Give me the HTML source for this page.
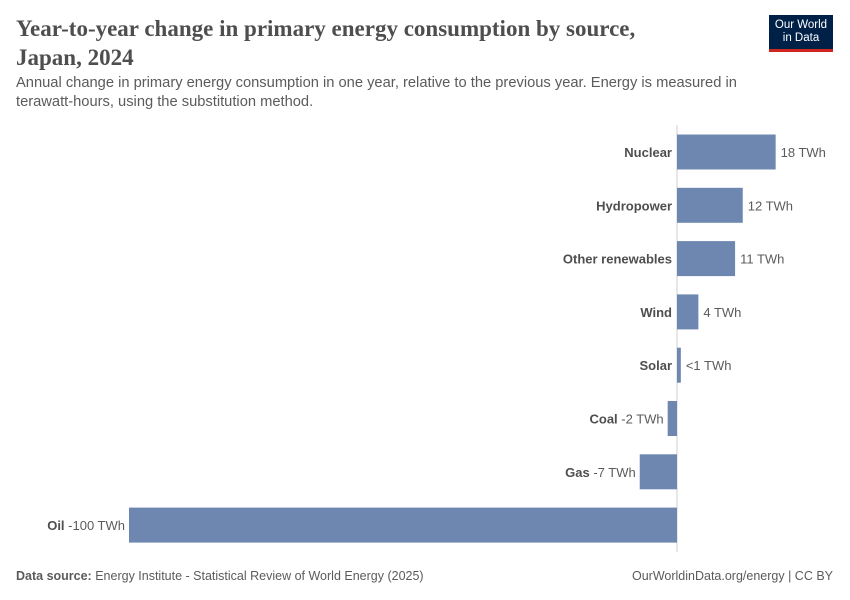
<!DOCTYPE html>
<html><head><meta charset="utf-8"><style>
body{margin:0;background:#fff;font-family:"Liberation Sans",sans-serif;}
#wrap{position:relative;width:850px;height:600px;overflow:hidden;}
.title{position:absolute;left:16px;top:14px;font-family:"Liberation Serif",serif;font-size:23px;line-height:29px;color:#4e4e4e;font-weight:bold;margin:0;width:700px;}
.sub{position:absolute;left:16px;top:74px;font-size:14.7px;line-height:19px;color:#5b5b5b;width:760px;}
.logo{position:absolute;left:769px;top:15px;width:64px;height:37px;background:#002147;color:#fff;font-size:11.5px;line-height:13px;text-align:center;padding-top:4px;box-sizing:border-box;border-bottom:3px solid #ce261e;}
.foot{position:absolute;top:569px;font-size:12.5px;color:#5b5b5b;}
</style></head><body><div id="wrap">
<h1 class="title">Year-to-year change in primary energy consumption by source,<br>Japan, 2024</h1>
<div class="sub">Annual change in primary energy consumption in one year, relative to the previous year. Energy is measured in terawatt-hours, using the substitution method.</div>
<div class="logo">Our World<br>in Data</div>
<svg id="svg" width="850" height="600" style="position:absolute;left:0;top:0"></svg>
<div class="foot" style="left:16px"><b>Data source:</b> Energy Institute - Statistical Review of World Energy (2025)</div>
<div class="foot" style="right:17px">OurWorldinData.org/energy | CC BY</div>
</div>
<script>
const categories=["Nuclear","Hydropower","Other renewables","Wind","Solar","Coal","Gas","Oil"];
const values=[18,12,10.6,3.9,0.7,-1.7,-6.8,-100];
const valueLabels=["18 TWh","12 TWh","11 TWh","4 TWh","<1 TWh","-2 TWh","-7 TWh","-100 TWh"];
const NS="http://www.w3.org/2000/svg";
const svg=document.getElementById('svg');
const x0=677,scale=5.48;
function xs(v){return x0+v*scale;}
function yc(i){return 152+i*53.3;}
function mk(t,a){const e=document.createElementNS(NS,t);for(const k in a)e.setAttribute(k,a[k]);svg.appendChild(e);return e;}
const zl=mk('line',{x1:x0,x2:x0,y1:125,y2:552,stroke:'#cfcfcf','stroke-width':1});


categories.forEach((c,i)=>{
 const v=values[i],x=Math.min(xs(0),xs(v)),w=Math.abs(xs(v)-xs(0));
 const r=mk('rect',{x:x,y:yc(i)-17.5,width:Math.max(w,1),height:35,fill:'#6d87b0'});
 
 
 const y=yc(i)+5;
 if(v>=0){
  const n=mk('text',{x:x0-5,y:y,'text-anchor':'end','font-size':13,'font-weight':'bold',fill:'#4e4e4e','font-family':'Liberation Sans'});n.textContent=c;
  
  
  const l=mk('text',{x:xs(v)+5,y:y,'font-size':13,fill:'#5b5b5b','font-family':'Liberation Sans'});l.textContent=valueLabels[i];
  
  
 }else{
  const t=mk('text',{x:xs(v)-4,y:y,'text-anchor':'end','font-size':13,fill:'#5b5b5b','font-family':'Liberation Sans'});
  
  
  const b=document.createElementNS(NS,'tspan');b.setAttribute('font-weight','bold');b.setAttribute('fill','#4e4e4e');b.textContent=c+' ';t.appendChild(b);
  const s=document.createElementNS(NS,'tspan');s.textContent=valueLabels[i];t.appendChild(s);
 }
});
</script></body></html>
